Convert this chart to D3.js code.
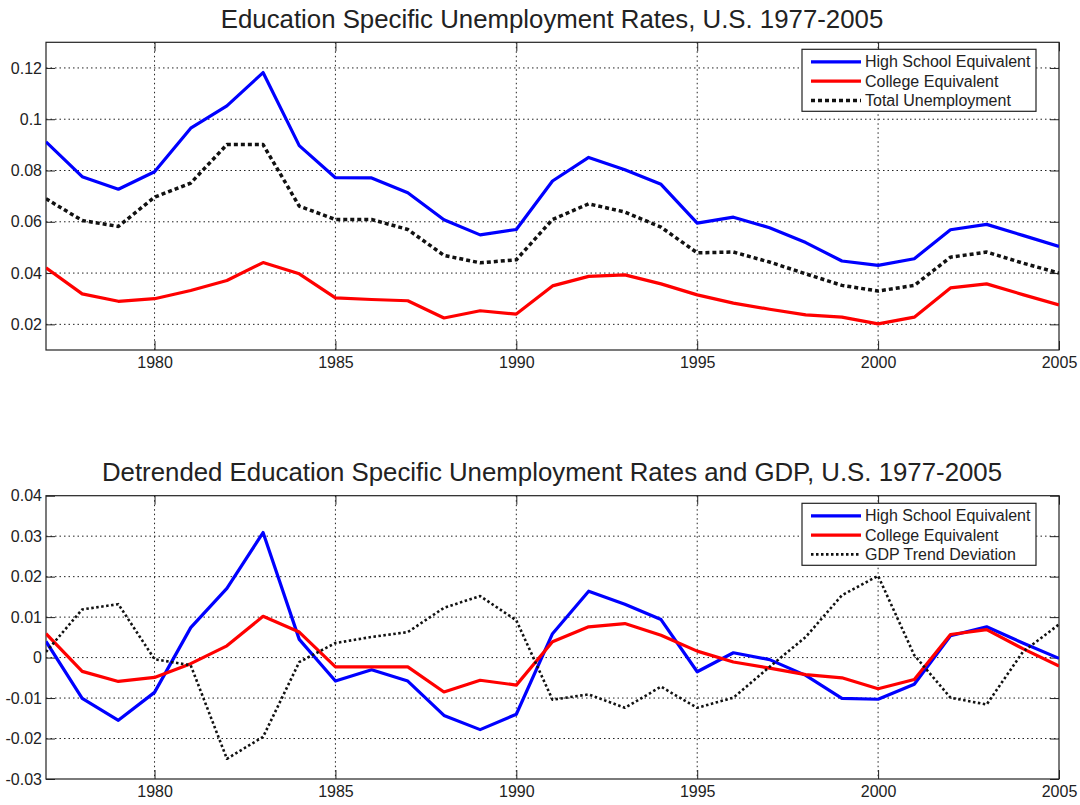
<!DOCTYPE html>
<html>
<head>
<meta charset="utf-8">
<script src="https://cdn.jsdelivr.net/npm/d3@7"></script>
<style>
  body { margin: 0; background: #fff; }
  svg text { font-family: "Liberation Sans", Arial, sans-serif; fill: #222; }
</style>
</head>
<body>
<div id="chart"></div>
<script>
var years = d3.range(1977, 2006);

// top panel: unemployment rates
var highSchool = [0.0912, 0.0776, 0.0727, 0.0795, 0.0965, 0.1052, 0.1182, 0.0897, 0.0772,
  0.0771, 0.0713, 0.0608, 0.0549, 0.0570, 0.0759, 0.0851, 0.0803, 0.0746, 0.0595,
  0.0618, 0.0577, 0.0519, 0.0447, 0.0430, 0.0456, 0.0569, 0.0590, 0.0547, 0.0504];
var college = [0.0421, 0.0319, 0.0290, 0.0300, 0.0332, 0.0371, 0.0441, 0.0397, 0.0303,
  0.0297, 0.0292, 0.0225, 0.0253, 0.0240, 0.0350, 0.0387, 0.0393, 0.0358, 0.0315,
  0.0283, 0.0259, 0.0237, 0.0228, 0.0202, 0.0228, 0.0342, 0.0358, 0.0316, 0.0276];
var totalUnemp = [0.0690, 0.0605, 0.0582, 0.0696, 0.0751, 0.0901, 0.0901, 0.0661, 0.0609,
  0.0609, 0.0570, 0.0469, 0.0440, 0.0452, 0.0609, 0.0670, 0.0638, 0.0579, 0.0479,
  0.0482, 0.0443, 0.0397, 0.0352, 0.0330, 0.0352, 0.0462, 0.0482, 0.0439, 0.0400];

// bottom panel: detrended series
var hsDetr = [0.0040, -0.0101, -0.0155, -0.0086, 0.0074, 0.0171, 0.0309, 0.0045, -0.0058,
  -0.0030, -0.0058, -0.0143, -0.0178, -0.0140, 0.0059, 0.0164, 0.0132, 0.0094, -0.0035,
  0.0012, -0.0005, -0.0044, -0.0101, -0.0103, -0.0066, 0.0054, 0.0076, 0.0036, -0.0002];
var colDetr = [0.0059, -0.0034, -0.0059, -0.0049, -0.0015, 0.0029, 0.0102, 0.0063, -0.0023,
  -0.0023, -0.0023, -0.0085, -0.0056, -0.0068, 0.0039, 0.0076, 0.0084, 0.0055, 0.0016,
  -0.0011, -0.0026, -0.0042, -0.0050, -0.0077, -0.0054, 0.0057, 0.0069, 0.0022, -0.0021];
var gdpDev = [0.0014, 0.0119, 0.0132, -0.0004, -0.0019, -0.0250, -0.0196, -0.0011, 0.0036,
  0.0051, 0.0063, 0.0123, 0.0152, 0.0092, -0.0104, -0.0091, -0.0124, -0.0072, -0.0124,
  -0.0099, -0.0023, 0.0051, 0.0154, 0.0202, 0.0006, -0.0099, -0.0116, 0.0014, 0.0082];

var xTicks = [1980, 1985, 1990, 1995, 2000, 2005];
var yTicksTop = [0.02, 0.04, 0.06, 0.08, 0.1, 0.12];
var yTicksBottom = [-0.03, -0.02, -0.01, 0, 0.01, 0.02, 0.03, 0.04];

var width = 1080, height = 805;
var svg = d3.select("#chart").append("svg")
  .attr("width", width)
  .attr("height", height);

function panel(opts){
  var x = d3.scaleLinear().domain([1977, 2005]).range([46, 1059]);
  var y = d3.scaleLinear().domain(opts.yDomain).range([opts.bottom, opts.top]);
  var g = svg.append("g");
  var tickLen = 9;

  // grid
  g.selectAll(".gx").data(xTicks.filter(function(d){ return d < 2005; }))
    .enter().append("line")
    .attr("x1", function(d){ return x(d); }).attr("x2", function(d){ return x(d); })
    .attr("y1", opts.top).attr("y2", opts.bottom)
    .attr("stroke", "#222").attr("stroke-width", 1).attr("stroke-dasharray", "1.5,3");
  g.selectAll(".gy").data(opts.yTicks.filter(function(d){ return y(d) > opts.top + 1 && y(d) < opts.bottom - 1; }))
    .enter().append("line")
    .attr("x1", 46).attr("x2", 1059)
    .attr("y1", function(d){ return y(d); }).attr("y2", function(d){ return y(d); })
    .attr("stroke", "#222").attr("stroke-width", 1).attr("stroke-dasharray", "1.5,3");

  // axes (MATLAB style: ticks inside, on all four sides)
  var fmt = function(d){ return d === 0 ? "0" : String(+d.toFixed(2)); };
  var bottomAx = g.append("g").attr("transform", "translate(0," + opts.bottom + ")")
    .call(d3.axisBottom(x).tickValues(xTicks).tickSizeInner(-tickLen).tickSizeOuter(0).tickPadding(7).tickFormat(d3.format("d")));
  var topAx = g.append("g").attr("transform", "translate(0," + opts.top + ")")
    .call(d3.axisTop(x).tickValues(xTicks).tickSizeInner(-tickLen).tickSizeOuter(0).tickFormat(""));
  var leftAx = g.append("g").attr("transform", "translate(46,0)")
    .call(d3.axisLeft(y).tickValues(opts.yTicks).tickSizeInner(-tickLen).tickSizeOuter(0).tickPadding(4).tickFormat(fmt));
  var rightAx = g.append("g").attr("transform", "translate(1059,0)")
    .call(d3.axisRight(y).tickValues(opts.yTicks).tickSizeInner(-tickLen).tickSizeOuter(0).tickFormat(""));
  [bottomAx, topAx, leftAx, rightAx].forEach(function(a){
    a.select(".domain").remove();
    a.selectAll("line").attr("stroke", "#222");
    a.selectAll("text").attr("font-size", 16).attr("fill", "#222")
      .style("font-family", "'Liberation Sans', Arial, sans-serif");
  });

  g.append("rect")
    .attr("x", 46).attr("y", opts.top)
    .attr("width", 1059 - 46).attr("height", opts.bottom - opts.top)
    .attr("fill", "none").attr("stroke", "#222").attr("stroke-width", 1.2);

  // lines
  var clip = "clip" + opts.id;
  svg.append("clipPath").attr("id", clip).append("rect")
    .attr("x", 46).attr("y", opts.top).attr("width", 1013).attr("height", opts.bottom - opts.top);
  var line = d3.line().x(function(d, i){ return x(years[i]); }).y(function(d){ return y(d); });
  opts.series.forEach(function(s){
    g.append("path")
      .datum(s.values)
      .attr("clip-path", "url(#" + clip + ")")
      .attr("d", line)
      .attr("fill", "none")
      .attr("stroke", s.color)
      .attr("stroke-width", s.width)
      .attr("stroke-dasharray", s.dash || null)
      .attr("stroke-linejoin", "round");
  });

  // title
  svg.append("text")
    .attr("x", 552).attr("y", opts.titleY)
    .attr("text-anchor", "middle")
    .attr("font-size", 25.8)
    .text(opts.title);

  // legend
  var lg = g.append("g");
  lg.append("rect")
    .attr("x", 802).attr("y", opts.legendTop)
    .attr("width", 234).attr("height", 62)
    .attr("fill", "#fff").attr("stroke", "#222").attr("stroke-width", 1.2);
  opts.series.forEach(function(s, i){
    var ly = opts.legendTop + 12.5 + i * 19.3;
    lg.append("line")
      .attr("x1", 811).attr("x2", 861).attr("y1", ly).attr("y2", ly)
      .attr("stroke", s.color).attr("stroke-width", s.width)
      .attr("stroke-dasharray", s.dash || null);
    lg.append("text")
      .attr("x", 865).attr("y", ly + 5.5)
      .attr("font-size", 16)
      .text(s.name);
  });
}

panel({
  id: "top",
  top: 42.3, bottom: 350,
  yDomain: [0.01, 0.13],
  yTicks: yTicksTop,
  title: "Education Specific Unemployment Rates, U.S. 1977-2005",
  titleY: 28,
  legendTop: 49.3,
  series: [
    { name: "High School Equivalent", values: highSchool, color: "#0000ff", width: 3.2 },
    { name: "College Equivalent", values: college, color: "#ff0000", width: 3.2 },
    { name: "Total Unemployment", values: totalUnemp, color: "#111", width: 3.5, dash: "4,3" }
  ]
});

panel({
  id: "bottom",
  top: 495.7, bottom: 779,
  yDomain: [-0.03, 0.04],
  yTicks: yTicksBottom,
  title: "Detrended Education Specific Unemployment Rates and GDP, U.S. 1977-2005",
  titleY: 481,
  legendTop: 503.3,
  series: [
    { name: "High School Equivalent", values: hsDetr, color: "#0000ff", width: 3.2 },
    { name: "College Equivalent", values: colDetr, color: "#ff0000", width: 3.2 },
    { name: "GDP Trend Deviation", values: gdpDev, color: "#111", width: 2.6, dash: "2.5,2.5" }
  ]
});
</script>
</body>
</html>
